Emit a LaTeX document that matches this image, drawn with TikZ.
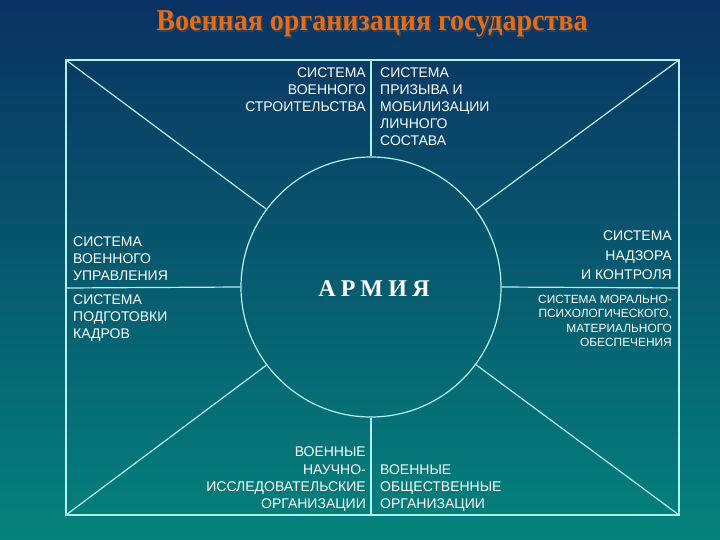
\documentclass[tikz,border=0pt]{standalone}
\usepackage{fontspec}
\setmainfont{Liberation Serif}
\setsansfont{Liberation Sans}
\definecolor{bgtop}{RGB}{10,50,98}
\definecolor{bgbot}{RGB}{4,130,124}
\definecolor{linec}{RGB}{180,240,242}
\definecolor{titlec}{RGB}{226,108,28}
\begin{document}
\begin{tikzpicture}[x=1pt,y=-1pt,
  lab/.style={inner sep=0pt,text=white,font=\sffamily\fontsize{14}{16.8}\selectfont},
  labs/.style={inner sep=0pt,text=white,font=\sffamily\fontsize{11.9}{14.5}\selectfont},
  conn/.style={draw=linec,line width=1.2pt},
  army/.style={circle,draw=linec,line width=1.2pt,minimum size=260pt,inner sep=0pt}]
\shade[top color=bgtop,bottom color=bgbot] (0,0) rectangle (720,540);
\useasboundingbox (0,0) rectangle (720,540);
% title
\node[inner sep=0pt,text=black!70,opacity=0.6,yscale=1.08,font=\bfseries\fontsize{28}{30}\selectfont] at (373.5,25.5) {Военная организация государства};
\node (title) [inner sep=0pt,text=titlec,yscale=1.08,font=\bfseries\fontsize{28}{30}\selectfont] at (372,24) {Военная организация государства};
% frame
\coordinate (tl) at (66,60);
\coordinate (tr) at (679,60);
\coordinate (bl) at (66,515);
\coordinate (br) at (679,515);
\coordinate (tm) at (371,60);
\coordinate (bm) at (371,515);
\coordinate (lm) at (66,288);
\coordinate (rm) at (679,288);
\draw[conn] (tl) rectangle (br);
\node (army) [army] at (371,287) {};
\node (armytext) [inner sep=0pt,text=white,font=\bfseries\fontsize{24}{26}\selectfont\addfontfeature{LetterSpace=22}] at (374,289) {АРМИЯ};
\draw[conn] (tl) -- (army);
\draw[conn] (tr) -- (army);
\draw[conn] (bl) -- (army);
\draw[conn] (br) -- (army);
\draw[conn] (tm) -- (army.north);
\draw[conn] (army.south) -- (bm);
\draw[conn] (lm) -- (army.west);
\draw[conn] (army.east) -- (rm);
% labels
\node (stroy) [lab,align=right,anchor=north east] at (366,68) {СИСТЕМА\\ВОЕННОГО\\СТРОИТЕЛЬСТВА};
\node (prizyv) [lab,align=left,anchor=north west] at (380,68) {СИСТЕМА\\ПРИЗЫВА И\\МОБИЛИЗАЦИИ\\ЛИЧНОГО\\СОСТАВА};
\node (upr) [lab,align=left,anchor=north west] at (73,237) {СИСТЕМА\\ВОЕННОГО\\УПРАВЛЕНИЯ};
\node (kadr) [lab,align=left,anchor=north west] at (73,295) {СИСТЕМА\\ПОДГОТОВКИ\\КАДРОВ};
\node (nadz) [lab,align=right,anchor=north east,font=\sffamily\fontsize{14}{19.5}\selectfont] at (672,231) {СИСТЕМА\\НАДЗОРА\\И КОНТРОЛЯ};
\node (moral) [labs,align=right,anchor=north east] at (672,294.5) {СИСТЕМА МОРАЛЬНО-\\ПСИХОЛОГИЧЕСКОГО,\\МАТЕРИАЛЬНОГО\\ОБЕСПЕЧЕНИЯ};
\node (nauch) [lab,align=right,anchor=north east] at (366,447) {ВОЕННЫЕ\\[1pt]НАУЧНО-\\ИССЛЕДОВАТЕЛЬСКИЕ\\ОРГАНИЗАЦИИ};
\node (obsch) [lab,align=left,anchor=north west] at (380,465) {ВОЕННЫЕ\\ОБЩЕСТВЕННЫЕ\\ОРГАНИЗАЦИИ};
\end{tikzpicture}
\end{document}
